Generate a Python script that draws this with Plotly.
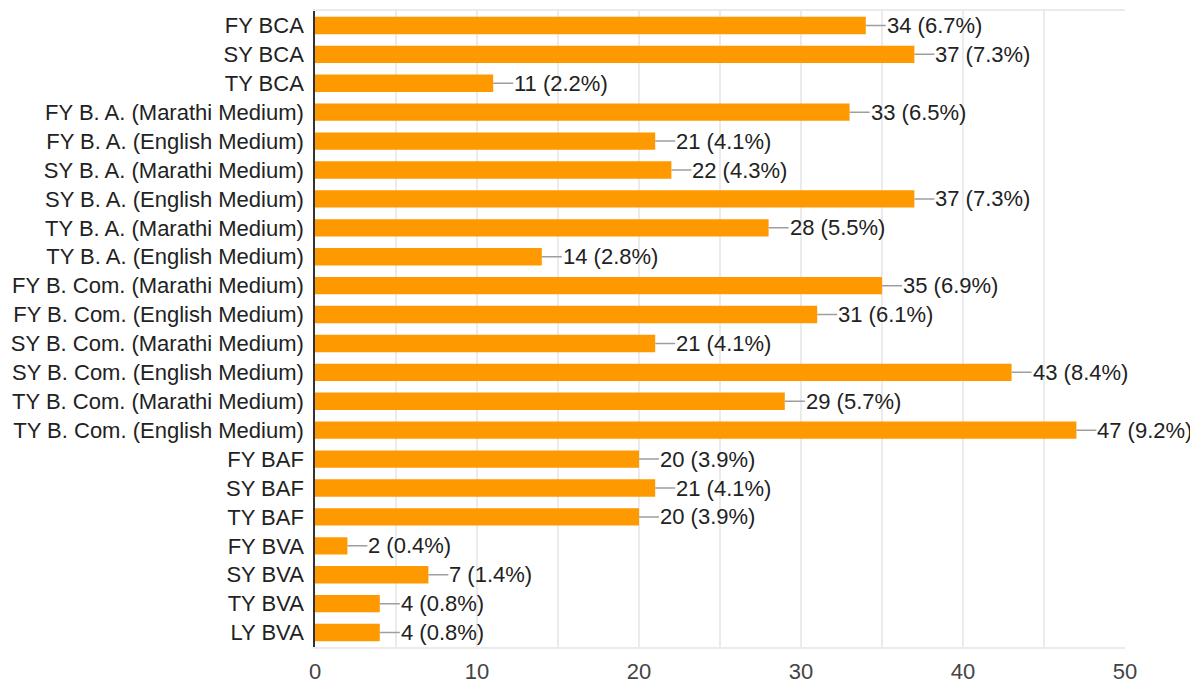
import plotly.graph_objects as go

categories = [
    "FY BCA", "SY BCA", "TY BCA",
    "FY B. A. (Marathi Medium)", "FY B. A. (English Medium)",
    "SY B. A. (Marathi Medium)", "SY B. A. (English Medium)",
    "TY B. A. (Marathi Medium)", "TY B. A. (English Medium)",
    "FY B. Com. (Marathi Medium)", "FY B. Com. (English Medium)",
    "SY B. Com. (Marathi Medium)", "SY B. Com. (English Medium)",
    "TY B. Com. (Marathi Medium)", "TY B. Com. (English Medium)",
    "FY BAF", "SY BAF", "TY BAF",
    "FY BVA", "SY BVA", "TY BVA", "LY BVA",
]
counts = [34, 37, 11, 33, 21, 22, 37, 28, 14, 35, 31, 21, 43, 29, 47, 20, 21, 20, 2, 7, 4, 4]
percents = ["6.7%", "7.3%", "2.2%", "6.5%", "4.1%", "4.3%", "7.3%", "5.5%", "2.8%", "6.9%",
            "6.1%", "4.1%", "8.4%", "5.7%", "9.2%", "3.9%", "4.1%", "3.9%", "0.4%", "1.4%",
            "0.8%", "0.8%"]
x_ticks = [0, 10, 20, 30, 40, 50]

FONT = "Liberation Sans, Arial, sans-serif"
TXT = "#222222"
FS = 22

fig = go.Figure(go.Bar(
    x=counts, y=categories, orientation="h",
    marker=dict(color="#FF9900", line=dict(width=0)),
    width=0.6, hoverinfo="x+y",
))

for c, v, p in zip(categories, counts, percents):
    fig.add_annotation(
        x=v, y=c, xref="x", yref="y",
        text=f"{v} ({p})", showarrow=True, arrowhead=0, arrowwidth=1.5,
        arrowcolor="#9e9e9e", ax=20, ay=0, xanchor="left", yanchor="middle",
        font=dict(family=FONT, size=FS, color=TXT), standoff=0, startstandoff=0,
        borderpad=0,
    )

fig.update_layout(
    width=1198, height=683,
    margin=dict(l=307, r=81, t=1, b=44),
    plot_bgcolor="white", paper_bgcolor="white",
    bargap=0.4, showlegend=False,
    font=dict(family=FONT, size=FS, color=TXT),
)
fig.update_xaxes(
    range=[0, 50], tickvals=x_ticks, ticktext=[str(t) for t in x_ticks],
    showgrid=True, gridcolor="#ebebeb", gridwidth=1.5,
    minor=dict(dtick=5, showgrid=True, gridcolor="#ebebeb", gridwidth=1.5),
    showline=True, linecolor="#ebebeb", linewidth=1.5, mirror=True,
    zeroline=False, ticks="", ticklabelstandoff=4,
    tickfont=dict(family=FONT, size=FS, color="#444444"),
)
fig.update_yaxes(
    autorange="reversed", showgrid=False, showline=True, linecolor="#333333",
    linewidth=1.5, ticks="", ticklabelstandoff=5,
    tickfont=dict(family=FONT, size=FS, color=TXT),
)

fig.write_html("out.html")
